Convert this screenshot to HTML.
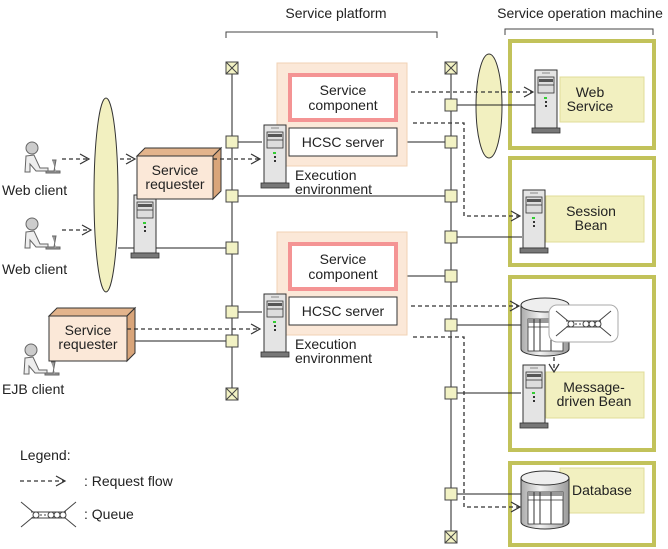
<!DOCTYPE html>
<html><head><meta charset="utf-8"><style>
html,body{margin:0;padding:0;background:#fff}
svg{display:block;font-family:"Liberation Sans",sans-serif;font-size:14px;fill:#222}
</style></head><body>
<svg width="668" height="549" viewBox="0 0 668 549" xmlns="http://www.w3.org/2000/svg">
<defs>
<linearGradient id="cg" x1="0" x2="1" y1="0" y2="0"><stop offset="0" stop-color="#aaa"/><stop offset="0.4" stop-color="#f2f2f2"/><stop offset="1" stop-color="#999"/></linearGradient>
<g id="srv">
<rect x="0" y="0" width="22" height="58" fill="#e4e4e4" stroke="#333" stroke-width="1"/>
<rect x="3" y="7" width="16" height="16" fill="#ddd" stroke="#333" stroke-width="0.8"/>
<rect x="4" y="9" width="14" height="3" fill="#555"/>
<line x1="3" y1="15" x2="19" y2="15" stroke="#333" stroke-width="0.8"/>
<line x1="7" y1="3" x2="15" y2="3" stroke="#888"/>
<rect x="9" y="27" width="3" height="2" fill="#3c3"/>
<rect x="10" y="31" width="2" height="2" fill="#333"/>
<rect x="10" y="35" width="2" height="2" fill="#333"/>
<rect x="-3" y="58" width="28" height="5" fill="#777" stroke="#333" stroke-width="0.8"/>
</g>
<g id="sq"><rect x="-6" y="-6" width="12" height="12" fill="#f2f2c4" stroke="#444" stroke-width="1"/></g>
<g id="xb"><rect x="-6" y="-6" width="12" height="12" fill="#f2f2c4" stroke="#444"/><path d="M-6,-6L6,6M6,-6L-6,6" stroke="#444"/></g>
<g id="usr">
<circle cx="8" cy="6" r="6" fill="#ccc" stroke="#666"/>
<path d="M2,14 L10,13 L16,26 L24,26 L24,29 L12,29 L6,22 L6,30 L1,30 Z" fill="#eee" stroke="#666"/>
<path d="M28,18 L32,18 L30,29 L22,29 L22,31 L36,31 L36,29 L32,29" fill="#999" stroke="#666" stroke-width="1"/>
</g>
<g id="cyl">
<path d="M0,8 L0,52 A24,7 0 0 0 48,52 L48,8" fill="url(#cg)" stroke="#333"/>
<ellipse cx="24" cy="8" rx="24" ry="7" fill="#eee" stroke="#333"/>
<rect x="7" y="22" width="35" height="32" fill="#fff" stroke="#333" stroke-width="0.8"/>
<rect x="7" y="22" width="35" height="4" fill="#999"/>
<line x1="13" y1="22" x2="13" y2="54" stroke="#333"/><line x1="19" y1="22" x2="19" y2="54" stroke="#333"/><line x1="30" y1="22" x2="30" y2="54" stroke="#333"/>
<line x1="7" y1="30" x2="42" y2="30" stroke="#333" stroke-width="0.8"/>
</g>
<g id="q">
<path d="M0,0 L12,10 M55,0 L43,10 M0,25 L12,15 M55,25 L43,15" stroke="#444" fill="none"/>
<line x1="10" y1="10" x2="45" y2="10" stroke="#444"/><line x1="10" y1="16" x2="45" y2="16" stroke="#444"/>
<circle cx="15" cy="13" r="3" fill="#fff" stroke="#444"/><path d="M19,13h8" stroke="#444" stroke-dasharray="2,2"/>
<circle cx="30" cy="13" r="3" fill="#fff" stroke="#444"/><circle cx="36" cy="13" r="3" fill="#fff" stroke="#444"/><circle cx="42" cy="13" r="3" fill="#fff" stroke="#444"/>
</g>
</defs>

<text x="336" y="18" text-anchor="middle">Service platform</text>
<path d="M226,38 V32 H437 V38" fill="none" stroke="#444"/>
<text x="580" y="18" text-anchor="middle">Service operation machine</text>
<path d="M505,35 V29 H653 V35" fill="none" stroke="#444"/>

<g fill="#fff" stroke="#c2c25a" stroke-width="4">
<rect x="510" y="41" width="144" height="107"/>
<rect x="510" y="158" width="144" height="107"/>
<rect x="510" y="277" width="144" height="173"/>
<rect x="510" y="463" width="144" height="82"/>
</g>
<g fill="#f2f0c0" stroke="#e0dc98">
<rect x="560" y="77" width="84" height="45"/>
<rect x="546" y="196" width="98" height="46"/>
<rect x="546" y="372" width="98" height="46"/>
<rect x="560" y="468" width="84" height="45"/>
</g>
<text x="590" y="97" text-anchor="middle">Web</text><text x="590" y="111" text-anchor="middle">Service</text>
<text x="591" y="216" text-anchor="middle">Session</text><text x="591" y="230" text-anchor="middle">Bean</text>
<text x="594" y="392" text-anchor="middle">Message-</text><text x="594" y="406" text-anchor="middle">driven Bean</text>
<text x="602" y="495" text-anchor="middle">Database</text>

<g stroke="#222" stroke-width="1" fill="none">
<line x1="232" y1="68" x2="232" y2="394"/>
<line x1="451" y1="68" x2="451" y2="537"/>
<line x1="232" y1="142" x2="262" y2="142"/>
<line x1="407" y1="142" x2="451" y2="142"/>
<line x1="232" y1="196" x2="451" y2="196"/>
<line x1="118" y1="248" x2="232" y2="248"/>
<line x1="232" y1="312" x2="262" y2="312"/>
<line x1="397" y1="276" x2="451" y2="276"/>
<line x1="127" y1="341" x2="232" y2="341"/>
<line x1="451" y1="105" x2="535" y2="105"/>
<line x1="451" y1="237" x2="522" y2="237"/>
<line x1="451" y1="325" x2="521" y2="325"/>
<line x1="451" y1="393" x2="521" y2="393"/>
<line x1="451" y1="494" x2="521" y2="494"/>
</g>

<ellipse cx="106" cy="195" rx="12" ry="97" fill="#f2f0c0" stroke="#333"/>
<ellipse cx="489" cy="106" rx="13" ry="52" fill="#f2f0c0" stroke="#333"/>
<line x1="476" y1="105" x2="535" y2="105" stroke="#222"/>

<rect x="277" y="63" width="130" height="103" fill="#fbe8d8" stroke="#f0d2b4"/>
<rect x="290" y="75" width="106" height="45" fill="#fff" stroke="#f49494" stroke-width="4"/>
<text x="343" y="95" text-anchor="middle">Service</text><text x="343" y="110" text-anchor="middle">component</text>
<rect x="289" y="128" width="108" height="28" fill="#fff" stroke="#333"/>
<text x="343" y="147" text-anchor="middle">HCSC server</text>
<text x="295" y="180">Execution</text><text x="295" y="194">environment</text>

<rect x="277" y="232" width="130" height="103" fill="#fbe8d8" stroke="#f0d2b4"/>
<rect x="290" y="244" width="106" height="45" fill="#fff" stroke="#f49494" stroke-width="4"/>
<text x="343" y="264" text-anchor="middle">Service</text><text x="343" y="279" text-anchor="middle">component</text>
<rect x="289" y="297" width="108" height="28" fill="#fff" stroke="#333"/>
<text x="343" y="316" text-anchor="middle">HCSC server</text>
<text x="295" y="349">Execution</text><text x="295" y="363">environment</text>

<use href="#srv" x="264" y="125"/>
<use href="#srv" x="264" y="294"/>
<use href="#srv" x="134" y="195"/>
<use href="#srv" x="535" y="70"/>
<use href="#srv" x="523" y="190"/>
<use href="#srv" x="523" y="365"/>

<g stroke="#333">
<path d="M137,156 L145,148 L221,148 L213,156 Z" fill="#e3b48c"/>
<path d="M213,156 L221,148 L221,191 L213,199 Z" fill="#d9a57a"/>
<rect x="137" y="156" width="76" height="43" fill="#fbe8d8"/>
<path d="M49,316 L57,308 L135,308 L127,316 Z" fill="#e3b48c"/>
<path d="M127,316 L135,308 L135,353 L127,361 Z" fill="#d9a57a"/>
<rect x="49" y="316" width="78" height="45" fill="#fbe8d8"/>
</g>
<text x="175" y="175" text-anchor="middle">Service</text><text x="175" y="189" text-anchor="middle">requester</text>
<text x="88" y="335" text-anchor="middle">Service</text><text x="88" y="349" text-anchor="middle">requester</text>

<use href="#usr" x="24" y="142"/>
<use href="#usr" x="24" y="218"/>
<use href="#usr" x="23" y="344"/>
<text x="2" y="195">Web client</text>
<text x="2" y="274">Web client</text>
<text x="2" y="394">EJB client</text>

<use href="#cyl" x="521" y="297"/>
<rect x="549" y="305" width="69" height="37" rx="8" fill="#fff" stroke="#aaa"/>
<use href="#q" x="556" y="311"/>
<use href="#cyl" x="521" y="470"/>

<g stroke="#333" stroke-width="1.3" fill="none" stroke-dasharray="4,3">
<path d="M62,159 H88"/><path d="M120,159 H134"/>
<path d="M62,230 H91"/>
<path d="M213,159 H259"/>
<path d="M127,329 H259"/>
<path d="M411,92 H532"/>
<path d="M413,123 H464 V216 H519"/>
<path d="M411,306 H518"/>
<path d="M413,337 H464 V507 H519"/>
<path d="M554,357 V370"/>
<path d="M20,481 H64"/>
</g>
<g stroke="#333" stroke-width="1.2" fill="none">
<path d="M80,154 L89,159 L80,164"/><path d="M126,154 L135,159 L126,164"/>
<path d="M82,225 L91,230 L82,235"/>
<path d="M251,154 L260,159 L251,164"/>
<path d="M251,324 L260,329 L251,334"/>
<path d="M524,87 L533,92 L524,97"/>
<path d="M511,211 L520,216 L511,221"/>
<path d="M510,301 L519,306 L510,311"/>
<path d="M511,502 L520,507 L511,512"/>
<path d="M549,364 L554,372 L559,364"/>
<path d="M56,476 L65,481 L56,486"/>
</g>

<use href="#xb" x="232" y="68"/><use href="#xb" x="232" y="394"/>
<use href="#xb" x="451" y="68"/><use href="#xb" x="451" y="537"/>
<use href="#sq" x="232" y="142"/><use href="#sq" x="232" y="196"/><use href="#sq" x="232" y="248"/>
<use href="#sq" x="232" y="312"/><use href="#sq" x="232" y="341"/>
<use href="#sq" x="451" y="105"/><use href="#sq" x="451" y="142"/><use href="#sq" x="451" y="196"/>
<use href="#sq" x="451" y="237"/><use href="#sq" x="451" y="276"/><use href="#sq" x="451" y="325"/>
<use href="#sq" x="451" y="393"/><use href="#sq" x="451" y="494"/>

<text x="20" y="460">Legend:</text>
<text x="84" y="486">: Request flow</text>
<use href="#q" x="21" y="502"/>
<text x="84" y="519">: Queue</text>
</svg>
</body></html>
